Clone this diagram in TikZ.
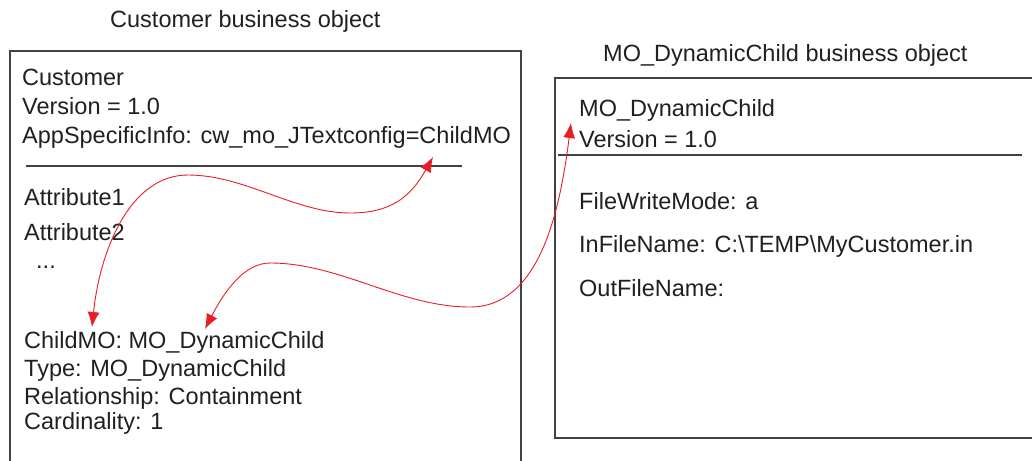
\documentclass[tikz,border=0pt]{standalone}
\usepackage{fontspec}
\setmainfont{Liberation Sans}
\usepackage{xcolor}
\usepackage{tikz}
\usetikzlibrary{arrows.meta}
\definecolor{inkgray}{RGB}{35,31,32}
\definecolor{linkred}{RGB}{232,30,37}

\begin{document}
\begin{tikzpicture}[x=1pt,y=-1pt,
        field/.style={anchor=base west,inner sep=0pt,text=inkgray,font=\fontsize{23.5}{28}\selectfont},
        frame line/.style={draw=inkgray!85,line width=1.1pt},
        link/.style={draw=linkred,line width=0.9pt,{Latex[length=15pt,width=12pt]}-{Latex[length=15pt,width=12pt]}}
      ]
      \useasboundingbox (0,0) rectangle (1032,460);

      % titles
      \node[field] (custtitle) at (110,28) {Customer business object};
      \node[field] (dyntitle)  at (603,62) {MO\_DynamicChild business object};

      % frames
      \draw[frame line] (10,475) -- (10,51) -- (521,51) -- (521,475);
      \draw[frame line] (1045,78) -- (555,78) -- (555,438) -- (1045,438);
      \draw[frame line] (26,166) -- (462,166);
      \draw[frame line] (558,155) -- (1022,155);

      % Customer fields
      \node[field] (cname)   at (22,85)  {Customer};
      \node[field] (cver)    at (22,114) {Version = 1.0};
      \node[field] (capp)    at (22,143) {AppSpecificInfo: cw\_mo\_JTextconfig=ChildMO};
      \node[field] (attr1)   at (24,205) {Attribute1};
      \node[field] (attr2)   at (24,240) {Attribute2};
      \node[field] (dots)    at (36,268) {...};
      \node[field] (child)   at (24,348) {ChildMO: MO\_DynamicChild};
      \node[field] (ctype)   at (24,376) {Type: MO\_DynamicChild};
      \node[field] (crel)    at (24,404) {Relationship: Containment};
      \node[field] (ccard)   at (24,429) {Cardinality: 1};

      % MO_DynamicChild fields
      \node[field] (dname)   at (579,116) {MO\_DynamicChild};
      \node[field] (dver)    at (579,147) {Version = 1.0};
      \node[field] (dmode)   at (579,209) {FileWriteMode: a};
      \node[field] (din)     at (579,252) {InFileName: C:\textbackslash TEMP\textbackslash MyCustomer.in};
      \node[field] (dout)    at (579,296) {OutFileName:};

      % link end points
      \coordinate (append)   at (433,157);
      \coordinate (childend) at (92,327);
      \coordinate (typeend)  at (205,329);
      \coordinate (dynend)   at (571,123);

      % links
      \path[link] (append) .. controls (410,198) and (390,213) .. (350,213)
        .. controls (295,213) and (245,175) .. (188,175)
        .. controls (130,175) and (100,250) .. (childend);
      \path[link] (typeend) .. controls (225,290) and (245,263) .. (270,263)
        .. controls (340,263) and (400,307) .. (470,307)
        .. controls (540,307) and (560,210) .. (dynend);
    \end{tikzpicture}
\end{document}
